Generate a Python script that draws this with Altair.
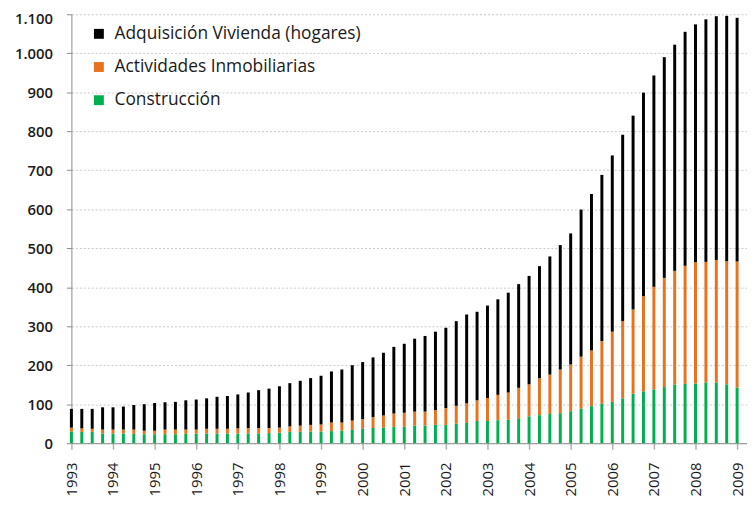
import altair as alt
import pandas as pd

# Quarterly series, 1993 Q1 .. 2009 Q1
start_year = 1993
construccion = [30, 29, 29, 25, 25, 25, 24, 23, 23, 23, 23, 24, 24, 25, 25, 25,
                25, 25, 25, 26, 27, 29, 29, 30, 30, 31, 32, 34, 37, 39, 40, 42,
                42, 45, 45, 47, 47, 50, 52, 57, 57, 59, 60, 64, 69, 72, 75, 77,
                82, 89, 95, 101, 106, 115, 127, 133, 138, 144, 150, 152, 153, 156,
                156, 151, 143]
actividades = [10, 9, 8, 10, 10, 10, 11, 9, 9, 12, 12, 11, 11, 12, 12, 12,
               13, 14, 14, 13, 13, 14, 16, 17, 18, 22, 21, 24, 25, 28, 31, 34,
               36, 36, 36, 38, 43, 46, 50, 53, 59, 65, 70, 78, 82, 95, 101, 112,
               120, 133, 143, 161, 180, 198, 216, 244, 263, 280, 292, 303, 311, 309,
               314, 316, 323]
adquisicion = [48, 50, 51, 57, 57, 59, 63, 68, 71, 70, 71, 75, 77, 78, 82, 84,
               87, 91, 97, 101, 106, 111, 115, 120, 125, 131, 136, 142, 146, 153, 161, 171,
               177, 187, 194, 201, 206, 217, 228, 227, 237, 245, 256, 266, 278, 287, 303, 319,
               336, 377, 401, 426, 452, 478, 497, 522, 542, 566, 580, 600, 610, 622,
               625, 629, 625]

series_names = ["Adquisición Vivienda (hogares)", "Actividades Inmobiliarias", "Construcción"]
series_colors = ["#000000", "#E8731E", "#00B050"]
year_ticks = list(range(1993, 2010))
y_ticks = list(range(0, 1101, 100))

rows = []
for i in range(len(construccion)):
    t = start_year + i / 4
    rows.append({"t": t, "serie": series_names[2], "valor": construccion[i], "orden": 0})
    rows.append({"t": t, "serie": series_names[1], "valor": actividades[i], "orden": 1})
    rows.append({"t": t, "serie": series_names[0], "valor": adquisicion[i], "orden": 2})
df = pd.DataFrame(rows)

FONT = "Open Sans"

chart = alt.Chart(df).mark_bar(size=3).encode(
    x=alt.X(
        "t:Q",
        scale=alt.Scale(domain=[1993, 2009.238], nice=False, zero=False, padding=0),
        axis=alt.Axis(
            title=None, values=year_ticks, format="d", labelAngle=-90,
            grid=False, domainColor="#8c8c8c", tickColor="#b0b0b0", tickSize=6,
            tickWidth=1.5, labelPadding=13, labelFont=FONT, labelFontSize=15,
            labelColor="#1a1a1a", labelOverlap=False,
        ),
    ),
    y=alt.Y(
        "valor:Q",
        stack="zero",
        scale=alt.Scale(domain=[0, 1100], nice=False, padding=0),
        axis=alt.Axis(
            title=None, values=y_ticks,
            labelExpr="replace(format(datum.value, ','), ',', '.')",
            labelOffset={"condition": {"test": "datum.value == 1100", "value": 4}, "value": 0},
            grid=True, gridColor="#c8c8c8", gridDash=[2, 2], gridWidth=1,
            domainColor="#8c8c8c", tickColor="#8c8c8c", tickSize=5,
            labelPadding=14, labelFont=FONT, labelFontSize=15,
            labelFontWeight=600, labelColor="#1a1a1a",
        ),
    ),
    color=alt.Color(
        "serie:N",
        scale=alt.Scale(domain=series_names, range=series_colors),
        legend=alt.Legend(
            title=None, orient="none", legendX=19, legendY=11,
            symbolType="square", symbolSize=100, symbolStrokeWidth=0,
            labelFont=FONT, labelFontSize=17.5, labelColor="#1a1a1a",
            labelOffset=7, rowPadding=14.5, labelLimit=400,
        ),
    ),
    order=alt.Order("orden:Q"),
).properties(
    width=682,
    height=433,
    autosize=alt.AutoSizeParams(type="none"),
    padding={"left": 64, "top": 4, "right": 0, "bottom": 53},
).configure_view(stroke=None)

chart.save("out.html", embed_options={"renderer": "svg", "actions": False})
